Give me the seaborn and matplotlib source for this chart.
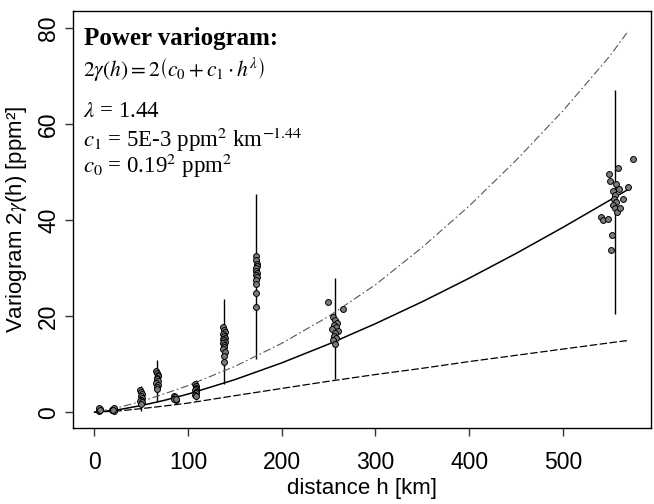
import seaborn as sns
import numpy as np
import matplotlib.pyplot as plt
import pandas as pd

# distance classes: vertical range bars
cluster_h = [5, 20, 50, 67, 86, 108, 138, 173, 257, 556]
range_lo = [0.2, 0.3, 0.4, 2.1, 2.2, 2.5, 6.0, 11.1, 7.0, 20.6]
range_hi = [1.1, 1.0, 5.6, 11.0, 3.8, 6.7, 23.7, 45.5, 27.9, 67.1]

# empirical variogram points
pts_h = ([4.5, 5.5, 6.5, 5.0, 6.0]
         + [19, 20, 21, 20.5, 19.5]
         + [49, 50, 51, 49.5, 50.5, 50, 49, 51, 50]
         + [66, 67, 68, 67.5, 66.5, 67, 68, 66, 67.5, 67, 66.5]
         + [85, 86, 87, 86.5, 85.5, 87.5]
         + [107, 108, 109, 108.5, 107.5, 109, 108, 107.5, 108.5]
         + [137, 138, 139, 137.5, 138.5, 139.5, 137, 138, 139, 137.5, 138.5, 138, 137, 139, 138, 138.5]
         + [173, 172, 174, 173.5, 172.5, 173, 174, 172, 173.5, 173, 172.5, 173, 172.5]
         + [249, 265, 255, 257, 259, 256, 258, 254, 260, 257, 256, 258, 255, 257]
         + [549, 550, 558.5, 557, 553, 556, 555, 557, 554, 556, 558, 541, 543, 548, 552, 551, 575, 569, 564, 561, 560])
pts_v = ([0.4, 0.6, 0.8, 1.0, 0.5]
         + [0.5, 0.7, 0.9, 0.4, 0.6]
         + [4.6, 4.2, 3.8, 3.4, 3.0, 2.7, 2.4, 2.1, 1.8]
         + [8.7, 8.3, 7.9, 7.5, 7.2, 6.9, 6.6, 6.2, 5.8, 5.3, 4.8]
         + [3.4, 3.0, 2.6, 3.2, 2.8, 2.9]
         + [6.0, 5.6, 5.2, 4.9, 4.6, 4.3, 4.0, 3.7, 3.5]
         + [17.8, 17.2, 16.8, 16.3, 15.9, 15.6, 15.3, 15.0, 14.7, 14.4, 14.1, 13.7, 13.2, 12.5, 11.8, 10.5]
         + [32.6, 31.7, 31.0, 30.5, 30.0, 29.5, 29.0, 28.6, 28.2, 27.5, 26.8, 24.8, 21.9]
         + [23.0, 21.6, 19.9, 19.2, 18.6, 18.2, 17.8, 17.4, 17.0, 16.5, 16.0, 15.5, 15.0, 14.3]
         + [49.6, 48.3, 51.0, 47.6, 46.1, 45.2, 44.5, 43.8, 43.2, 42.5, 41.8, 40.7, 40.0, 40.3, 36.9, 33.9, 52.8, 47.0, 44.5, 42.5, 46.5])

# model curves
curve_h = [0, 25, 50, 75, 100, 150, 200, 250, 300, 350, 400, 450, 500, 550, 570]
fit_v = [0.04, 0.55, 1.44, 2.54, 3.83, 6.84, 10.33, 14.23, 18.49, 23.07, 27.96, 33.11, 38.54, 44.19, 46.49]
upper_v = [0.1, 1.0, 2.3, 3.9, 5.6, 9.6, 14.4, 20.0, 26.6, 34.4, 43.0, 52.5, 62.8, 74.2, 79.5]
lower_v = [0.05, 0.3, 0.8, 1.35, 1.95, 3.5, 5.0, 6.5, 7.9, 9.2, 10.6, 11.9, 13.2, 14.5, 15.0]

sns.set_style("ticks")
plt.rcParams['font.family'] = ['Liberation Sans', 'DejaVu Sans']
plt.rcParams['mathtext.fontset'] = 'stix'
plt.rcParams['text.color'] = 'black'
plt.rcParams['axes.labelcolor'] = 'black'
plt.rcParams['xtick.color'] = 'black'
plt.rcParams['ytick.color'] = 'black'

fig = plt.figure(figsize=(6.54, 5.04), dpi=100)
ax = fig.add_axes([0.1112, 0.1514, 0.8843, 0.8258])

ax.vlines(cluster_h, range_lo, range_hi, color='black', lw=1.0, zorder=2)
sns.lineplot(x=curve_h, y=fit_v, ax=ax, color='black', lw=1.1, sort=False, zorder=2)
sns.lineplot(x=curve_h, y=upper_v, ax=ax, color='#555555', lw=0.8, sort=False,
             linestyle=(0, (7, 2.5, 1.5, 2.5)), zorder=2)
sns.lineplot(x=curve_h, y=lower_v, ax=ax, color='black', lw=0.9, sort=False,
             linestyle=(0, (6, 2)), zorder=2)
sns.scatterplot(x=pts_h, y=pts_v, ax=ax, s=18, color='#7a7a7a', edgecolor='black',
                linewidth=0.7, zorder=3)

ax.set_xlim(-23.05, 594.1)
ax.set_ylim(-3.17, 83.5)
ax.set_xticks([0, 100, 200, 300, 400, 500])
ax.set_yticks([0, 20, 40, 60, 80])
for s in ax.spines.values():
    s.set_color('black')
    s.set_linewidth(1.0)
ax.tick_params(axis='both', direction='out', length=6, width=1, color='#333333',
               labelcolor='black', labelsize=16.5)
ax.tick_params(axis='x', pad=11)
ax.tick_params(axis='y', pad=3)
for lab in ax.get_yticklabels():
    lab.set_rotation(90)
    lab.set_va('center')

ax.set_xlabel('distance h [km]', fontsize=16, labelpad=3)
ax.set_ylabel('Variogram 2$\\gamma$(h) [ppm²]', fontsize=16, labelpad=6)

serif = 'Liberation Serif'
ax.text(0.0195, 0.9195, 'Power variogram:', transform=ax.transAxes, fontsize=18,
        fontweight='bold', family=serif, va='baseline')
ax.text(0.018, 0.845, r'$2\gamma(h) = 2\left(c_0 + c_1 \cdot h^{\lambda}\right)$',
        transform=ax.transAxes, fontsize=15.5, family=serif, va='baseline')
ax.text(0.018, 0.7472, r'$\lambda$ = 1.44', transform=ax.transAxes, fontsize=16.5,
        family=serif, va='baseline')
ax.text(0.018, 0.6752, r'$c_{\mathit{1}}$ = 5E-3 ppm$^{\mathrm{2}}$ km$^{\mathrm{-1.44}}$',
        transform=ax.transAxes, fontsize=16.5, family=serif, va='baseline')
ax.text(0.018, 0.6112, r'$c_{\mathit{0}}$ = 0.19$^{\mathrm{2}}$ ppm$^{\mathrm{2}}$',
        transform=ax.transAxes, fontsize=16.5, family=serif, va='baseline')

fig.savefig('out.png', dpi=100)
